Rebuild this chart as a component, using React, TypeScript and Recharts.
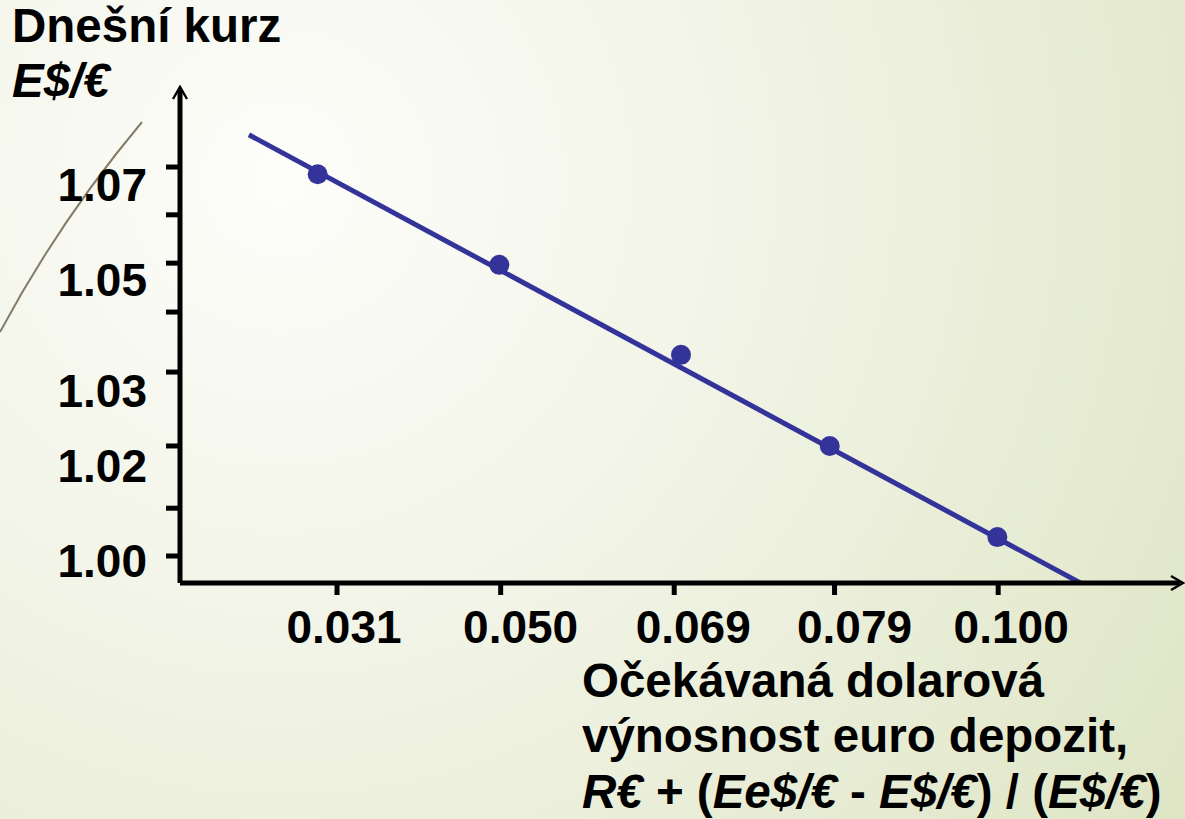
import { ComposedChart, Line, Scatter, XAxis, YAxis } from "recharts";

// x axis is schematic: the tick labels are not to scale, so ticks sit on slots
const xTicks = [1, 1.99, 3.04, 4.01, 5];
const xTickLabels = ["0.031", "0.050", "0.069", "0.079", "0.100"];

// y axis tick marks (only some of them carry a label)
const yTicks = [1.07, 1.0614, 1.0527, 1.0439, 1.0331, 1.0198, 1.0086, 1.0];
const yTickLabels = ["1.07", "", "1.05", "", "1.03", "1.02", "", "1.00"];

// observed points
const pointX = [0.883, 1.982, 3.081, 3.981, 4.995];
const pointY = [1.0687, 1.0524, 1.0362, 1.0198, 1.0034];

// fitted downward-sloping line
const lineX = [0.467, 5.563];
const lineY = [1.0758, 0.9941];

const points = pointX.map((x, i) => ({ x, y: pointY[i] }));
const fitLine = lineX.map((x, i) => ({ x, y: lineY[i] }));

const W = 1185;
const H = 819;
const BLUE = "#333399";
const FONT = "'Liberation Sans', Arial, sans-serif";

// label nudges relative to their tick marks, as on the slide
const xLabelShift = [7, 20, 19, 20, 13];
const yLabelShift = [18, 0, 17, 0, 19, 20, 0, 5];

function XTick(props: any) {
  const { x, y, index } = props;
  return (
    <text
      x={x + xLabelShift[index]}
      y={y + 46}
      textAnchor="middle"
      fontFamily={FONT}
      fontWeight="bold"
      fontSize={46}
      fill="#000"
    >
      {xTickLabels[index]}
    </text>
  );
}

function YTick(props: any) {
  const { x, y, index } = props;
  const label = yTickLabels[index];
  if (!label) return null;
  return (
    <text
      x={x}
      y={y + yLabelShift[index] + 16}
      textAnchor="end"
      fontFamily={FONT}
      fontWeight="bold"
      fontSize={46}
      fill="#000"
    >
      {label}
    </text>
  );
}

const txt = { fontFamily: FONT, fontWeight: "bold" as const, fontSize: 47.5, fill: "#000" };
const it = { fontStyle: "italic" as const };

export default function App() {
  return (
    <div style={{ position: "absolute", left: 0, top: 0, width: W, height: H, overflow: "hidden" }}>
      <svg width={W} height={H} style={{ position: "absolute", left: 0, top: 0 }}>
        <defs>
          <radialGradient id="bg" cx={280} cy={180} r={1150} gradientUnits="userSpaceOnUse">
            <stop offset="0" stopColor="#fdfdfa" />
            <stop offset="0.45" stopColor="#f0f3e4" />
            <stop offset="1" stopColor="#dde4c2" />
          </radialGradient>
          <marker
            id="axisArrow"
            viewBox="-16 -9 20 18"
            refX={-3}
            refY={0}
            markerWidth={20}
            markerHeight={18}
            markerUnits="userSpaceOnUse"
            orient="auto-start-reverse"
          >
            <path d="M -12 -7 L 0 0 L -12 7" fill="none" stroke="#000" strokeWidth={2.4} />
          </marker>
        </defs>
        <rect x={0} y={0} width={W} height={H} fill="url(#bg)" />
        <path d="M 142 122 Q 60 220 0 332" fill="none" stroke="#857c68" strokeWidth={2} />
      </svg>

      <div style={{ position: "absolute", left: 0, top: 0 }}>
        <ComposedChart width={W} height={H} margin={{ top: 90, right: 5, bottom: 0, left: 0 }}>
          <XAxis
            type="number"
            dataKey="x"
            domain={[0.05, 6.1]}
            ticks={xTicks}
            interval={0}
            allowDataOverflow
            height={236}
            tickSize={12}
            tickMargin={2}
            axisLine={{ stroke: "#000", strokeWidth: 5, markerEnd: "url(#axisArrow)" }}
            tickLine={{ stroke: "#000", strokeWidth: 5 }}
            tick={<XTick />}
          />
          <YAxis
            type="number"
            dataKey="y"
            domain={[0.99514, 1.08386]}
            ticks={yTicks}
            interval={0}
            allowDataOverflow
            width={180}
            tickSize={14}
            tickMargin={19}
            axisLine={{ stroke: "#000", strokeWidth: 5, markerStart: "url(#axisArrow)" }}
            tickLine={{ stroke: "#000", strokeWidth: 5 }}
            tick={<YTick />}
          />
          <Line
            data={fitLine}
            dataKey="y"
            type="linear"
            stroke={BLUE}
            strokeWidth={5}
            dot={false}
            activeDot={false}
            isAnimationActive={false}
          />
          <Scatter
            data={points}
            dataKey="y"
            fill={BLUE}
            isAnimationActive={false}
            shape={(p: any) => <circle cx={p.cx} cy={p.cy} r={10} fill={BLUE} />}
          />
        </ComposedChart>
      </div>

      <svg width={W} height={H} style={{ position: "absolute", left: 0, top: 0, pointerEvents: "none" }}>
        <text x={12} y={42} {...txt}>Dnešní kurz</text>
        <text x={12} y={97} {...txt} {...it}>E$/€</text>
        <text x={582} y={697} {...txt}>Očekávaná dolarová</text>
        <text x={582} y={752} {...txt}>výnosnost euro depozit,</text>
        <text x={582} y={808} {...txt}>
          <tspan {...it}>R€</tspan>
          {" + ("}
          <tspan {...it}>Ee$/€</tspan>
          {" - "}
          <tspan {...it}>E$/€</tspan>
          {") / ("}
          <tspan {...it}>E$/€</tspan>
          {")"}
        </text>
      </svg>
    </div>
  );
}
